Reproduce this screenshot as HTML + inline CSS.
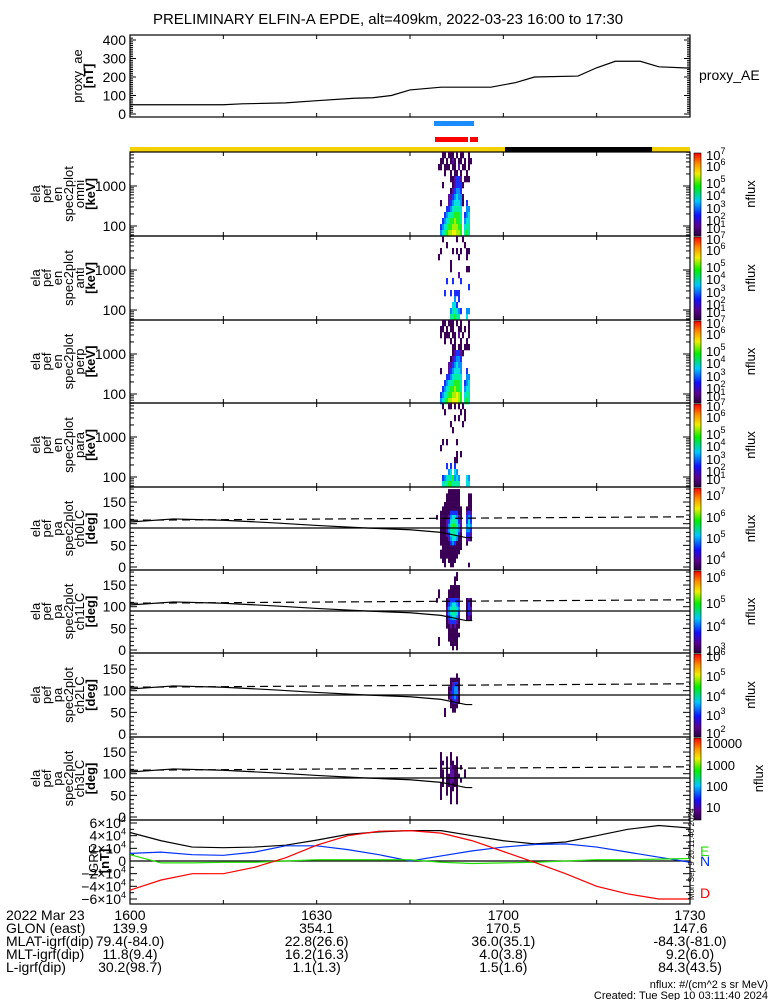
<!DOCTYPE html>
<html><head><meta charset="utf-8">
<style>
html,body{margin:0;padding:0;background:#fff;}
svg{display:block;font-family:"Liberation Sans",sans-serif;}
text{fill:#000;}
</style></head>
<body>
<svg id="chart" width="775" height="1000" viewBox="0 0 775 1000" xmlns="http://www.w3.org/2000/svg">
<text x="388" y="24" font-size="15" text-anchor="middle">PRELIMINARY ELFIN-A EPDE, alt=409km, 2022-03-23 16:00 to 17:30</text>
<defs>
<linearGradient id="cmap" x1="0" y1="1" x2="0" y2="0">
<stop offset="0" stop-color="#2a0040"/><stop offset="0.12" stop-color="#5a0090"/><stop offset="0.25" stop-color="#1010ff"/>
<stop offset="0.42" stop-color="#00c8ff"/><stop offset="0.6" stop-color="#00f000"/><stop offset="0.75" stop-color="#f0f000"/>
<stop offset="0.87" stop-color="#ff9000"/><stop offset="1" stop-color="#ff0000"/></linearGradient>
</defs>
<g id="g"></g>
</svg>
<script>
const aeMinutes=[0,15,18,25,30,36,39,42,45,50,58,62,65,72,75,78,82,85,90];
const aeValues=[50,50,55,60,72,85,88,100,130,145,145,170,200,205,250,285,285,255,248];
const igrfMinutes=[0,5,10,15,20,25,30,35,40,45,50,55,60,65,70,75,80,85,90];
const igrfTotal=[45000,32000,22000,21000,22000,25000,33000,42000,46000,48000,48000,40000,32000,27000,30000,40000,50000,56000,52000];
const igrfN=[12000,14000,10000,9000,14000,24000,24000,18000,10000,0,8000,16000,22000,26000,27000,22000,14000,6000,-2000];
const igrfE=[10000,-3000,-3000,-2000,-2000,0,2000,2000,2000,2000,-2000,-4000,-3000,-2000,0,2000,2000,3000,4000];
const igrfD=[-46000,-30000,-20000,-20000,-10000,5000,25000,40000,47000,48000,44000,32000,15000,-2000,-20000,-40000,-52000,-60000,-60000];
const footRows=[["2022 Mar 23","1600","1630","1700","1730"],["GLON (east)","139.9","354.1","170.5","147.6"],["MLAT-igrf(dip)","79.4(-84.0)","22.8(26.6)","36.0(35.1)","-84.3(-81.0)"],["MLT-igrf(dip)","11.8(9.4)","16.2(16.3)","4.0(3.8)","9.2(6.0)"],["L-igrf(dip)","30.2(98.7)","1.1(1.3)","1.5(1.6)","84.3(43.5)"]];
const specOmni=["0001101110101100100","0011010121011010110","0110111011020110100","0000100101101001000","0000000112332011100","0001000012333100000","0000000123443000000","0000002234544100000","0010002345554103000","0000033456665004400","0000345667776034500","0003456778776045500","0034567788877056600","0045678899887067600"];
const specAnti=["0001000000100100000","0000010000000010000","0010000010101001100","0100000000010001000","0000000100000000000","0000000100000001100","0000000000020000000","0000030030003000000","0000000000000000300","0000300303330000000","0000000004030000000","0000000055300000000","0000000456543004400","0000000667660005000"];
const specPerp=["0001101110101000100","0011010110011010100","0010111011020100100","0000100101001001000","0000000011011011100","0000000012332100000","0000000123443000000","0000002234544000000","0010002345554003000","0000033456665004400","0000345667776034500","0003456778776045500","0034567788987056600","0045678899987067600"];
const specPara=["0001001101010100000","0000100000001010000","0000000001010010000","0000000100000100000","0000000010000000000","0000000000000000000","0001010000100000000","0010000000000000000","0000000000101000000","0000000001100000000","0000030303000000000","0000004505400000000","0003456574540005400","0005667766660005500"];
const pa0=["0000001111110000000","0000011111110000110","0000011111110000110","0000111111110000110","0001111111111001110","0011111333311002320","1011112455421003430","0011123566532003530","0011124677642004540","0011124666542004430","0011123566531003320","0011112455411002210","0011111343111001000","0001111111111000000","0011111111110000000","0011111111100000000","0001101111000000000","0000100110000000100"];
const pa1=["0000000000100000000","0000000001100000000","0000000001000000000","0000000111110000000","0100001111110000000","0100001111110000000","1000012333320001210","0000013455430001310","0000024566540001320","0000024566530001320","0000013455420001210","0000012333210000000","0000011212110000000","0000001111100000000","0000001111110000000","0100001111100000000","0100000111100000000","0000000010100000000"];
const pa2=["0000000000000000000","0000000000000000000","0000000000000000000","0000000000000000000","0000000000100000000","0000000111110000000","0000000123310000000","0000001134410000000","0000001234420000000","0000001234310000000","0000000123210000000","0000000111100000000","0000100011000000000","0000100000000000000","0000000000000000000","0000000000000000000","0000000000000000000","0000000000000000000"];
const pa3=["0000000000000000000","0000000000000000000","0000000000000000000","0010000100000000000","0010010100100000000","0011010110100000000","0010010211101000000","0011010221100010000","0011011221110010000","0001011221101000000","0011011211100000000","0010010110100000000","0010010100100000000","0010000100100000000","0000000100100000000","0000000000000000000","0000000000000000000","0000000000000000000"];
const paLC=[104,111,108,102,96,90,86,80,74,68,68];
const paLCmin=[0,7,15,23,30,38,45,50,52,54,55];

const NS="http://www.w3.org/2000/svg";
const G=document.getElementById('g');
function el(t,a,p){const e=document.createElementNS(NS,t);for(const k in a)e.setAttribute(k,a[k]);(p||G).appendChild(e);return e;}
const X0=130,X1=690;
const xs=m=>X0+m*(X1-X0)/90;
const colors=["","#3a0055","#5a10a0","#1a30ff","#0090ff","#00e0e0","#00f0a0","#20f020","#a0f000","#f0f000"];
function line(x1,y1,x2,y2,sw,col,name){const e=el('line',{x1,y1,x2,y2,stroke:col||'#000','stroke-width':sw||1});return e;}
function txt(x,y,s,size,anchor,name,col){const e=el('text',{x,y,'font-size':size||13,'text-anchor':anchor||'end'});if(col)e.setAttribute('style','fill:'+col);e.textContent=s;return e;}
function frame(top,bot,name){const r=el('rect',{x:X0,y:top,width:X1-X0,height:bot-top,fill:'none',stroke:'#000','stroke-width':1.2});
 for(let m=15;m<90;m+=15){line(xs(m),top,xs(m),top+4);line(xs(m),bot,xs(m),bot-4);}}
function ylabel(x,cy,lines,name){const t=el('text',{transform:`translate(${x},${cy}) rotate(-90)`,'font-size':13,'text-anchor':'middle'});
 lines.forEach((s,i)=>{const ts=el('tspan',{x:0,dy:i?11:0},t);ts.textContent=s;if(s.startsWith('['))ts.setAttribute('font-weight','bold');});}

// ---- AE panel
const aeT=35,aeB=117,aeY=v=>114-v*0.185;
frame(aeT,aeB,'proxy-ae-panel');
for(let v=0;v<=410;v+=10){const w=v%100==0?6:3;line(X0,aeY(v),X0+w,aeY(v));line(X1,aeY(v),X1-w,aeY(v));}
[0,100,200,300,400].forEach(v=>txt(126,aeY(v)+5,String(v),14));
ylabel(82,76,['proxy_ae','[nT]'],'proxy-ae-y-title');
{const p=el('polyline',{points:aeMinutes.map((m,i)=>xs(m)+','+aeY(aeValues[i])).join(' '),fill:'none',stroke:'#000','stroke-width':1.2});}
txt(699,80,'proxy_AE',14,'start','proxy-ae-legend');
function bar(x,y,w,h,c,n){const r=el('rect',{x,y,width:w,height:h,fill:c});}
bar(434,121,40,5,'#1a8cff','science-zone-bar-blue');
bar(435,137,33,5,'#ff0000','science-zone-bar-red-1');
bar(470,137,8,5,'#ff0000','science-zone-bar-red-2');
bar(130,147,560,5,'#f5d000','sunlight-bar');
bar(505,147,147,5,'#000','shadow-bar');

// ---- spectral panels
const B=[152,236,320,403,487,570,653,737,820,904];
const specSets=[specOmni,specAnti,specPerp,specPara];
const specNames=['omni','anti','perp','para'];
function cells(data,top,rowH,name){data.forEach((row,r)=>{for(let c=0;c<row.length;c++){const v=+row[c];if(!v)continue;
 const e=el('rect',{x:436+c*2,y:top+r*rowH,width:2,height:rowH+0.3,fill:colors[v]});}});}
function cbar(top,bot,labels,offs,name){const r=el('rect',{x:694,y:top+1,width:7,height:bot-top-1,fill:'url(#cmap)',stroke:'#000','stroke-width':0.6});
 labels.forEach((s,i)=>{const t=el('text',{x:706,y:top+offs[i]+5,'font-size':13});
  if(s.includes('^')){const [b,e2]=s.split('^');t.appendChild(document.createTextNode(b));const sp=el('tspan',{dy:-6,'font-size':9},t);sp.textContent=e2;}else t.textContent=s;});
 const tx=labels[0]=='10000'?763:755;
 const n=el('text',{transform:`translate(${tx},${(top+bot)/2}) rotate(-90)`,'font-size':13,'text-anchor':'middle'});n.textContent='nflux';}
const decLabels=['10^7','10^6','10^5','10^4','10^3','10^2','10^1'];
for(let k=0;k<4;k++){const top=B[k],bot=B[k+1];frame(top,bot,'spec-'+specNames[k]+'-panel');
 const ey=E=>top+34+(3-Math.log10(E))*40;
 for(let d=10;d<=10000;d*=10)for(let j=1;j<10;j++){const E=d*j,y=ey(E);if(y<top||y>bot)continue;const w=j==1?7:4;line(X0,y,X0+w,y);line(X1,y,X1-w,y);}
 txt(126,ey(1000)+5,'1000',14);txt(126,ey(100)+5,'100',14);
 ylabel(40,(top+bot)/2,['ela','pef','en','spec2plot',specNames[k],'[keV]'],'spec-'+specNames[k]+'-y-title');
 cells(specSets[k],top,6,'spec-'+specNames[k]);
 cbar(top,bot,decLabels,[3,14,31,43,56,68,76],'colorbar-'+specNames[k]);}

// ---- pitch angle panels
const paSets=[pa0,pa1,pa2,pa3];
const cbLabels=[['10^7','10^6','10^5','10^4'],['10^6','10^5','10^4','10^3'],['10^6','10^5','10^4','10^3','10^2'],['10000','1000','100','10']];
const cbOffs=[[8,30,51,72],[7,33,56,80],[3,23,43,62,80],[6,28,49,70]];
for(let k=0;k<4;k++){const top=B[k+4],bot=B[k+5];frame(top,bot,'pa-ch'+k+'-panel');
 const py=d=>bot-3-d*0.433;
 for(let d=0;d<=180;d+=10){const w=d%50==0?7:4;line(X0,py(d),X0+w,py(d));line(X1,py(d),X1-w,py(d));}
 [0,50,100,150].forEach(d=>txt(126,py(d)+5,String(d),14));
 ylabel(40,(top+bot)/2,['ela','pef','pa','spec2plot','ch'+k+'LC','[deg]'],'pa-ch'+k+'-y-title');
 cells(paSets[k],py(180),0.433*10,'pa-ch'+k);
 line(X0,py(90),X1,py(90),1.2,'#000','pa-90-line');
 {const p=el('polyline',{points:paLCmin.map((m,i)=>xs(m)+','+py(paLC[i])).join(' '),fill:'none',stroke:'#000','stroke-width':1.2});}
 {const p=el('line',{x1:X0,y1:py(108),x2:X1,y2:py(116),stroke:'#000','stroke-width':1.2,'stroke-dasharray':'8,5'});}
 cbar(top,bot,cbLabels[k],cbOffs[k],'colorbar-pa-ch'+k);}

// ---- IGRF
const iT=820,iB=904,iy=v=>861-v*38/60000;
frame(iT,iB,'igrf-panel');
for(let v=-60000;v<=60000;v+=10000){const w=v%20000==0?7:4;line(X0,iy(v),X0+w,iy(v));line(X1,iy(v),X1-w,iy(v));}
[-60000,-40000,-20000,20000,40000,60000].forEach(v=>{const t=txt(126,iy(v)+5,(v<0?'\u2212':'')+Math.abs(v/10000)+'\u00d710',14);const sp=el('tspan',{dy:-6,'font-size':9},t);sp.textContent='4';});
txt(126,iy(0)+5,'0',14);
line(X0,iy(0),X1,iy(0),1.2,'#000','igrf-zero-line');
ylabel(98,861,['IGRF','[nT]'],'igrf-y-title');
[[igrfTotal,'#000','igrf-total'],[igrfN,'#0030ff','igrf-n'],[igrfE,'#20e000','igrf-e'],[igrfD,'#ff0000','igrf-d']].forEach(([arr,c,n])=>{
 const p=el('polyline',{points:igrfMinutes.map((m,i)=>xs(m)+','+iy(arr[i])).join(' '),fill:'none',stroke:c,'stroke-width':1.2});});
txt(700,856,'E',14,'start','legend-e','#20e000');
txt(700,866,'N',14,'start','legend-n','#0030ff');
txt(700,898,'D',14,'start','legend-d','#ff0000');
{const t=el('text',{transform:'translate(694,900) rotate(-90)','font-size':8});t.textContent='Mon Sep  9 20:11:40 2024';}

// ---- footer
const fy=[920,933,946,959,972];
footRows.forEach((r,i)=>{txt(6,fy[i],r[0],14,'start','footer-row-label');
 [0,30,60,90].forEach((m,j)=>txt(xs(m),fy[i],r[j+1],14,'middle','footer-value'));});
txt(768,988,'nflux: #/(cm^2 s sr MeV)',11,'end','units-note');
txt(768,999,'Created: Tue Sep 10 03:11:40 2024',11,'end','created-note');
</script>
</body></html>
